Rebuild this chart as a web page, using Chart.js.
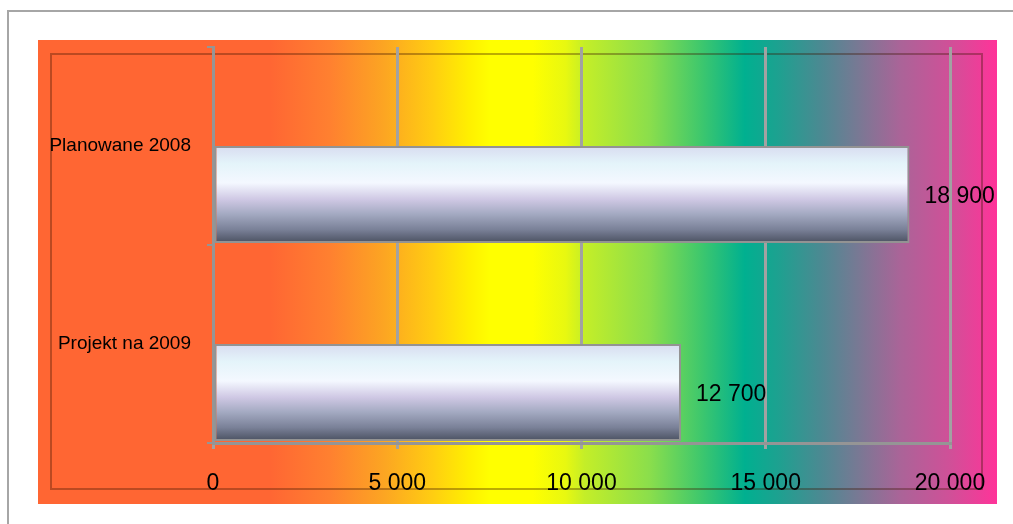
<!DOCTYPE html>
<html>
<head>
<meta charset="utf-8">
<script src="https://cdn.jsdelivr.net/npm/chart.js@4/dist/chart.umd.min.js"></script>
<style>
  html, body { margin: 0; padding: 0; background: #fff; }
  #chart { display: block; }
</style>
</head>
<body>
<canvas id="chart" width="1013" height="524"></canvas>
<script>
const categories = ["Planowane 2008", "Projekt na 2009"];
const values = [18900, 12700];
const xTicks = [0, 5000, 10000, 15000, 20000];

const FONT = '"Liberation Sans", Arial, sans-serif';

function fmt(v) {
    return String(v).replace(/\B(?=(\d{3})+(?!\d))/g, " ");
}

// background: page border, rainbow panel and inner frame
const backdrop = {
    id: "backdrop",
    beforeDraw(chart) {
        const c = chart.ctx;
        c.save();
        c.fillStyle = "#fff";
        c.fillRect(0, 0, chart.width, chart.height);

        c.strokeStyle = "#a6a6a6";
        c.lineWidth = 2;
        c.beginPath();
        c.moveTo(8, chart.height);
        c.lineTo(8, 11);
        c.lineTo(chart.width, 11);
        c.stroke();

        const g = c.createLinearGradient(38, 0, 997, 0);
        [
            [0, "#ff6633"], [0.242, "#ff6633"], [0.304, "#ff8030"],
            [0.362, "#fca622"], [0.41, "#ffcc12"], [0.45, "#fff000"],
            [0.471, "#ffff00"], [0.516, "#ffff00"], [0.55, "#e8f810"],
            [0.57, "#c4ee28"], [0.638, "#8ade4c"], [0.69, "#40c86c"],
            [0.737, "#00b090"], [0.774, "#1fa090"], [0.815, "#4a8a92"],
            [0.857, "#7a7894"], [0.899, "#aa6498"], [0.951, "#d05098"],
            [1, "#ff3399"]
        ].forEach(s => g.addColorStop(s[0], s[1]));
        c.fillStyle = g;
        c.fillRect(38, 40, 959, 464);

        c.strokeStyle = "rgba(60,20,0,0.35)";
        c.lineWidth = 2;
        c.strokeRect(51, 54, 931, 435);
        c.restore();
    }
};

// bars sit in the lower half of each category band, value labels to the right
const barShift = {
    id: "barShift",
    afterDatasetsUpdate(chart) {
        chart.getDatasetMeta(0).data.forEach(bar => {
            bar.y += bar.height / 2;
        });
    },
    afterDatasetsDraw(chart) {
        const c = chart.ctx;
        c.save();
        c.font = "23px " + FONT;
        c.fillStyle = "#000";
        c.textAlign = "left";
        c.textBaseline = "middle";
        chart.getDatasetMeta(0).data.forEach((bar, i) => {
            c.fillText(fmt(values[i]), bar.x + 15, bar.y + 2);
        });
        c.restore();
    }
};

function silver(ctx) {
    const chart = ctx.chart;
    const y = chart.scales.y;
    if (!y || ctx.dataIndex === undefined) return "#dde4f0";
    const band = (y.bottom - y.top) / categories.length;
    const top = y.getPixelForValue(ctx.dataIndex);
    const bottom = top + band * 0.49;
    if (!isFinite(top) || !isFinite(bottom) || bottom <= top) return "#dde4f0";
    const g = chart.ctx.createLinearGradient(0, top, 0, bottom);
    g.addColorStop(0, "#d8dcf0");
    g.addColorStop(0.18, "#e4f4fa");
    g.addColorStop(0.38, "#f4f8ff");
    g.addColorStop(0.55, "#cfc8e4");
    g.addColorStop(0.7, "#a4aac2");
    g.addColorStop(0.86, "#7a8198");
    g.addColorStop(1, "#4a5060");
    return g;
}

new Chart(document.getElementById("chart"), {
    type: "bar",
    data: {
        labels: categories,
        datasets: [{
            data: values,
            backgroundColor: silver,
            borderColor: "#939393",
            borderWidth: 2,
            borderSkipped: false,
            categoryPercentage: 1,
            barPercentage: 0.49
        }]
    },
    plugins: [backdrop, barShift],
    options: {
        indexAxis: "y",
        responsive: false,
        animation: false,
        layout: { padding: { top: 47, right: 63, left: 0, bottom: 0 } },
        plugins: {
            legend: { display: false },
            tooltip: { enabled: false }
        },
        scales: {
            x: {
                min: 0,
                max: 20000,
                afterBuildTicks: s => { s.ticks = xTicks.map(v => ({ value: v })); },
                afterFit: s => { s.height = 81; },
                grid: { color: "#a2a2a2", lineWidth: 3, tickLength: 6 },
                border: { color: "#959595", width: 3 },
                ticks: {
                    font: { family: FONT, size: 23 },
                    color: "#000",
                    padding: 21,
                    maxRotation: 0,
                    callback: v => fmt(v)
                }
            },
            y: {
                afterFit: s => { s.width = 213; },
                grid: { drawOnChartArea: false, color: "#959595", lineWidth: 2, tickLength: 6 },
                border: { color: "#959595", width: 3 },
                ticks: {
                    font: { family: FONT, size: 19 },
                    color: "#000",
                    padding: 16
                }
            }
        }
    }
});
</script>
</body>
</html>
